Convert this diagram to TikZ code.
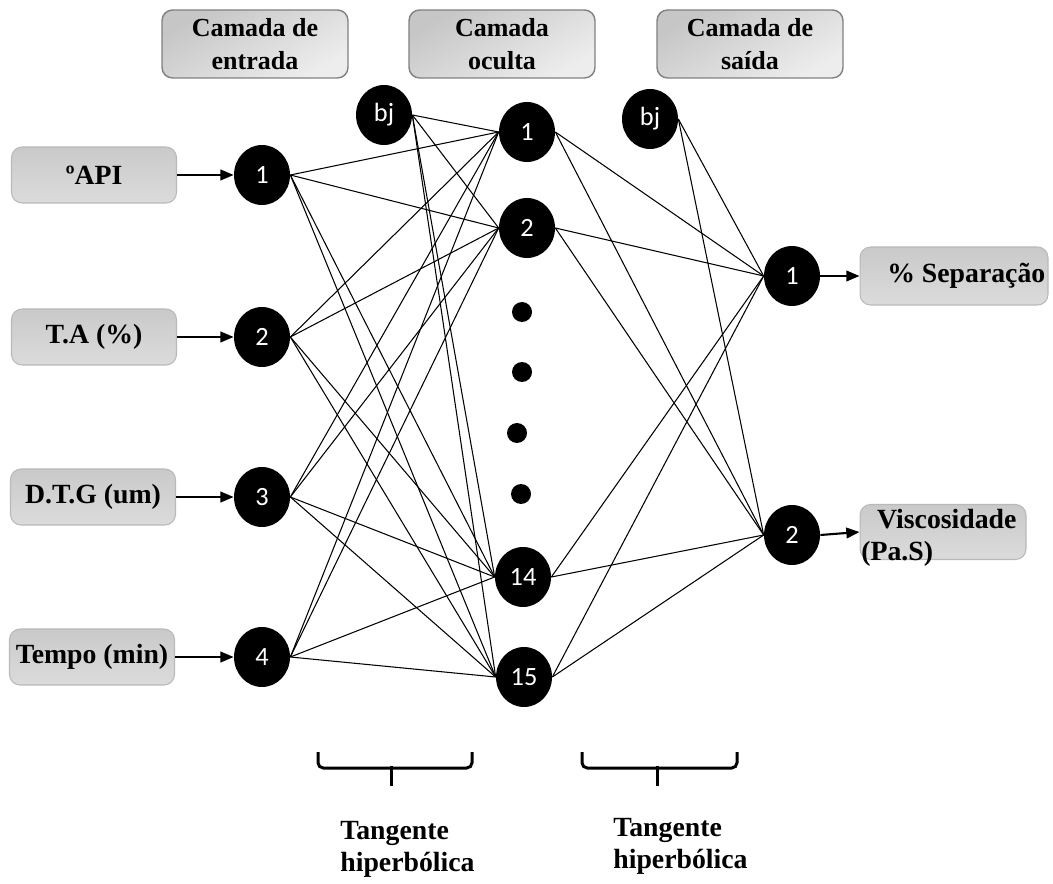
\documentclass[tikz,border=0pt]{standalone}
\usepackage{fontspec}
\setmainfont{Liberation Serif}
\newfontfamily\numfont{Carlito}
\usepackage{tikz}
\usetikzlibrary{arrows.meta,shapes.geometric}

\begin{document}
\begin{tikzpicture}[x=0.02cm,y=-0.02cm,
    camada/.style={rounded corners=6pt,draw=gray,line width=0.8pt,
        top color=gray!45,bottom color=gray!14,shading angle=30,
        minimum width=3.72cm,minimum height=1.36cm,align=center,inner sep=0pt,
        font=\bfseries\fontsize{14.8}{18.8}\selectfont},
    caixa/.style={rounded corners=6pt,draw=gray!55,line width=0.6pt,
        top color=gray!42,bottom color=gray!28,
        minimum width=3.3cm,minimum height=1.12cm,inner sep=0pt,
        font=\bfseries\fontsize{15.8}{18.5}\selectfont},
    neuronio/.style={ellipse,fill=black,minimum width=1.12cm,minimum height=1.2cm,
        inner sep=0pt,text=white,font=\numfont\fontsize{15}{15}\selectfont},
    ponto/.style={circle,fill=black,minimum size=0.4cm,inner sep=0pt},
    seta/.style={line width=1.2pt,-{Triangle[length=7.5pt,width=6pt]}},
    liga/.style={line width=0.6pt},
    chave/.style={line width=1.7pt,rounded corners=3pt},
    rotulo/.style={align=left,inner sep=0pt,anchor=north west,
        font=\bfseries\fontsize{15.8}{18.3}\selectfont}]
    \useasboundingbox (0,0) rectangle (1053,884);

    % cabecalhos das camadas
    \node[camada] (c1) at (255,44) {Camada de\\entrada};
    \node[camada] (c2) at (502,44) {Camada\\oculta};
    \node[camada] (c3) at (750,44) {Camada de\\saída};

    % entradas
    \node[caixa] (e1) at (94,175) {ºAPI};
    \node[caixa] (e2) at (94,337) {T.A (\%)};
    \node[caixa] (e3) at (93,497) {D.T.G (um)};
    \node[caixa] (e4) at (92,657) {Tempo (min)};
    \node[neuronio] (i1) at (262,175) {1};
    \node[neuronio] (i2) at (262,337) {2};
    \node[neuronio] (i3) at (262,497) {3};
    \node[neuronio] (i4) at (262,657) {4};
    \foreach \i in {1,...,4}
        \draw[seta] (e\i.east) -- (i\i.west);

    % camada oculta
    \node[neuronio] (b1) at (384,115) {bj};
    \node[neuronio] (h1) at (527,132) {1};
    \node[neuronio] (h2) at (527,228) {2};
    \node[ponto] (d1) at (522,312) {};
    \node[ponto] (d2) at (522,372) {};
    \node[ponto] (d3) at (517,433) {};
    \node[ponto] (d4) at (521,494) {};
    \node[neuronio] (h14) at (523,577) {14};
    \node[neuronio] (h15) at (524,677) {15};

    % saidas
    \node[neuronio] (b2) at (650,119) {bj};
    \node[neuronio] (o1) at (792,276) {1};
    \node[neuronio] (o2) at (792,535) {2};
    \node[caixa,minimum width=3.76cm,minimum height=1.16cm] (s1) at (954,276) {\hspace*{14pt}\% Separação};
    \node[caixa,minimum width=3.32cm,minimum height=1.1cm] (s2) at (943,532) {};
    \node[rotulo] (s2t) at (861,509) {\hspace*{9pt}Viscosidade\\(Pa.S)};
    \draw[seta] (o1.east) -- (s1.west);
    \draw[seta] (o2.east) -- (s2.west);

    % ligacoes
    \foreach \h in {1,2,14,15} {
        \foreach \i in {1,...,4}
            \draw[liga] (i\i.east) -- (h\h.west);
        \draw[liga] (b1.east) -- (h\h.west);
        \foreach \o in {1,2}
            \draw[liga] (h\h.east) -- (o\o.west);
    }
    \foreach \o in {1,2}
        \draw[liga] (b2.east) -- (o\o.west);

    % funcoes de ativacao
    \draw[chave] (318,752) -- (318,768) -- (472,768) -- (472,752);
    \draw[chave] (391,766) -- (391,786);
    \draw[chave] (582,752) -- (582,768) -- (737,768) -- (737,752);
    \draw[chave] (657,766) -- (657,786);
    \node[rotulo] (t1) at (340,821) {Tangente\\hiperbólica};
    \node[rotulo] (t2) at (613,818) {Tangente\\hiperbólica};
\end{tikzpicture}
\end{document}
